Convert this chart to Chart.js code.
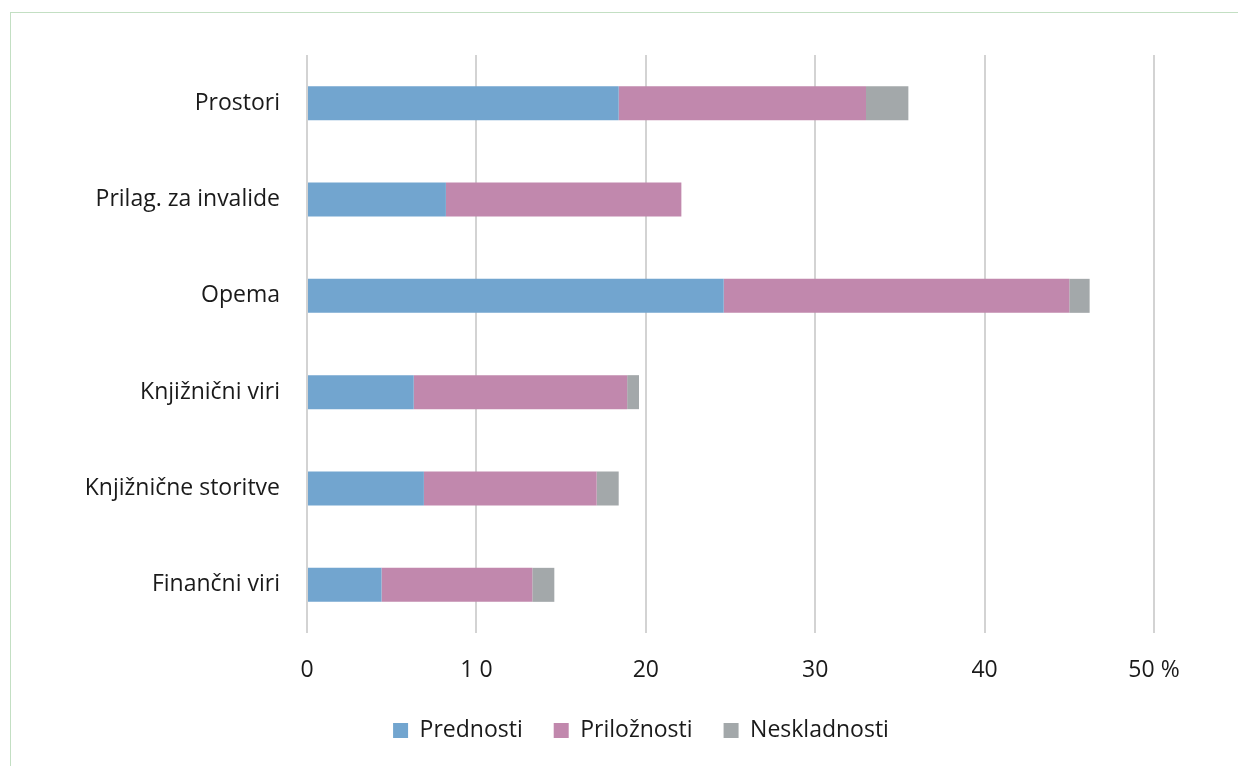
<!DOCTYPE html>
<html>
<head>
<meta charset="utf-8">
<script src="https://cdn.jsdelivr.net/npm/chart.js@4/dist/chart.umd.min.js"></script>
<style>
  html, body { margin: 0; padding: 0; background: #fff; }
  #frame { position: absolute; left: 10px; top: 12px; width: 1300px; height: 800px;
           border-left: 1px solid #c3dfc3; border-top: 1px solid #c3dfc3; }
  #wrap { position: absolute; left: 0; top: 0; width: 1238px; height: 766px; }
</style>
</head>
<body>
<div id="frame"></div>
<div id="wrap"><canvas id="chart"></canvas></div>
<script>
// categories top to bottom
const categories = ['Prostori', 'Prilag. za invalide', 'Opema', 'Knjižnični viri', 'Knjižnične storitve', 'Finančni viri'];
// shares in %
const prednosti   = [18.4, 8.2, 24.6, 6.3, 6.9, 4.4];
const priloznosti = [14.6, 13.9, 20.4, 12.6, 10.2, 8.9];
const neskladnosti = [2.5, 0, 1.2, 0.7, 1.3, 1.3];
const tickLabels = ['0', '1 0', '20', '30', '40', '50 %'];

const font = { family: "'Open Sans', sans-serif", size: 23 };
const bottomPad = 14;

// legend sits right of the padded area's centre in the original
const legendShift = {
  id: 'legendShift',
  afterLayout(chart) {
    chart.legend.left += 64;
    chart.legend.right += 64;
  }
};

new Chart(document.getElementById('chart'), {
  type: 'bar',
  data: {
    labels: categories,
    datasets: [
      { label: 'Prednosti', data: prednosti, backgroundColor: '#72a5cf' },
      { label: 'Priložnosti', data: priloznosti, backgroundColor: '#c188ad' },
      { label: 'Neskladnosti', data: neskladnosti, backgroundColor: '#a3a8aa' }
    ]
  },
  plugins: [legendShift],
  options: {
    indexAxis: 'y',
    responsive: true,
    maintainAspectRatio: false,
    animation: false,
    barPercentage: 0.5,
    categoryPercentage: 0.706,
    layout: { padding: { left: 0, right: 84, top: 55, bottom: bottomPad } },
    plugins: {
      tooltip: { enabled: false },
      legend: {
        position: 'bottom',
        labels: { color: '#1a1a1a', font: font, boxWidth: 15, boxHeight: 15, padding: 31 }
      }
    },
    scales: {
      x: {
        stacked: true, min: 0, max: 50,
        ticks: { stepSize: 10, color: '#1a1a1a', font: font, padding: 24,
                 callback: (v, i) => tickLabels[i] },
        grid: { color: '#d3d3d3', lineWidth: 2, drawTicks: false },
        border: { display: false },
        afterFit: s => { s.height = s.chart.height - bottomPad - s.chart.legend.height - 633; }
      },
      y: {
        stacked: true,
        ticks: { color: '#1a1a1a', font: font, padding: 19 },
        grid: { display: false },
        border: { display: false },
        afterFit: s => { s.width = 307; }
      }
    }
  }
});
</script>
</body>
</html>
